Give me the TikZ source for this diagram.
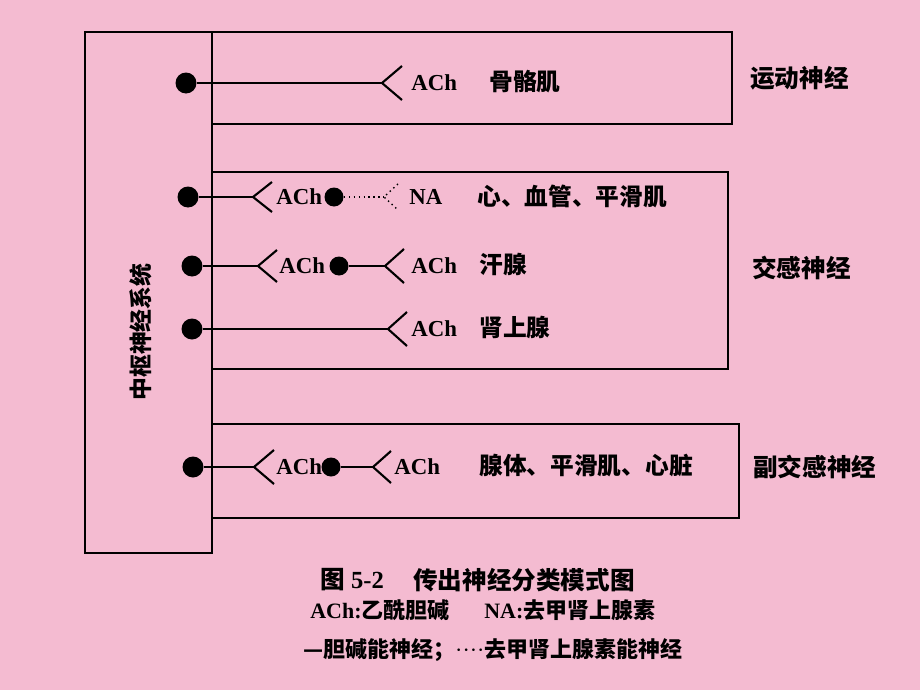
\documentclass[tikz,border=0pt]{standalone}
\usepackage{fontspec}
\setmainfont{Liberation Serif}
\newfontfamily\cjk{Noto Sans CJK SC}
\usetikzlibrary{calc}
\definecolor{bgpink}{RGB}{244,187,209}

\tikzset{
  wire/.style={line width=1.2pt},
  boxline/.style={line width=1.5pt},
  soma/.style={circle, fill=black, inner sep=0pt, minimum size=0.42cm},
  bouton/.style={circle, fill=black, inner sep=0pt, minimum size=0.38cm},
  trans/.style={anchor=west, inner sep=0pt, font=\fontsize{13}{15}\selectfont\bfseries},
  organ/.style={anchor=west, inner sep=0pt, font=\cjk\fontsize{13.5}{16}\selectfont\bfseries},
  caption/.style={anchor=west, inner sep=0pt, font=\fontsize{12.5}{14}\selectfont\bfseries},
}

\begin{document}
\begin{tikzpicture}[x=0.02cm, y=-0.02cm]

    % 0. Background fixes the page size
    \fill[bgpink] (0,0) rectangle (920,690);

    % 1. Central nervous system box and the three nerve boxes
    \draw[boxline] (85,32) rectangle (212,553);
    \draw[boxline] (212,32) -- (732,32) -- (732,124) -- (212,124);
    \draw[boxline] (212,172) -- (728,172) -- (728,369) -- (212,369);
    \draw[boxline] (212,424) -- (739,424) -- (739,518) -- (212,518);
    \node[rotate=90, inner sep=0pt, font=\cjk\fontsize{13}{15}\selectfont\bfseries] (cns) at (141,332) {中枢神经系统};

    % 2. Motor nerve
    \node[soma] (m0) at (186,83) {};
    \coordinate (mf) at (382,83);
    \draw[wire] (m0) -- (mf);
    \draw[wire] (mf) ++(20,-17) -- (mf) -- ++(20,17);
    \node[trans] (mach) at (411,83) {ACh};
    \node[organ] (mtgt) at (489,82) {骨骼肌};

    % 3. Sympathetic nerve, row 1 (noradrenergic ending, dotted)
    \node[soma] (a0) at (188,197) {};
    \coordinate (af1) at (253,197);
    \draw[wire] (a0) -- (af1);
    \draw[wire] (af1) ++(19,-15) -- (af1) -- ++(19,15);
    \node[trans] (aach) at (276,197) {ACh};
    \node[bouton] (a1) at (334,197) {};
    \coordinate (af2) at (384,197);
    \draw[dotted, line width=0.8pt] (a1) -- (af2);
    \draw[dotted, line width=0.8pt] (af2) ++(14,-13) -- (af2) -- ++(14,13);
    \node[trans] (ana) at (409,197) {NA};
    \node[organ] (atgt) at (477,196) {心、血管、平滑肌};

    % 4. Sympathetic nerve, row 2 (sweat gland)
    \node[soma] (b0) at (192,266) {};
    \coordinate (bf1) at (258,266);
    \draw[wire] (b0) -- (bf1);
    \draw[wire] (bf1) ++(19,-16) -- (bf1) -- ++(19,16);
    \node[trans] (bach1) at (279,266) {ACh};
    \node[bouton] (b1) at (339,266) {};
    \coordinate (bf2) at (385,266);
    \draw[wire] (b1) -- (bf2);
    \draw[wire] (bf2) ++(19,-17) -- (bf2) -- ++(19,17);
    \node[trans] (bach2) at (411,266) {ACh};
    \node[organ] (btgt) at (479,265) {汗腺};

    % 5. Sympathetic nerve, row 3 (adrenal medulla)
    \node[soma] (c0) at (192,329) {};
    \coordinate (cf) at (388,329);
    \draw[wire] (c0) -- (cf);
    \draw[wire] (cf) ++(19,-17) -- (cf) -- ++(19,17);
    \node[trans] (cach) at (411,329) {ACh};
    \node[organ] (ctgt) at (479,328) {肾上腺};

    % 6. Parasympathetic nerve
    \node[soma] (p0) at (193,467) {};
    \coordinate (pf1) at (254,467);
    \draw[wire] (p0) -- (pf1);
    \draw[wire] (pf1) ++(20,-17) -- (pf1) -- ++(20,17);
    \node[trans] (pach1) at (276,467) {ACh};
    \node[bouton] (p1) at (331,467) {};
    \coordinate (pf2) at (373,467);
    \draw[wire] (p1) -- (pf2);
    \draw[wire] (pf2) ++(18,-16) -- (pf2) -- ++(18,16);
    \node[trans] (pach2) at (394,467) {ACh};
    \node[organ] (ptgt) at (479,466) {腺体、平滑肌、心脏};

    % 7. Nerve names on the right
    \node[organ, font=\cjk\fontsize{14}{16}\selectfont\bfseries] (motor) at (750,78) {运动神经};
    \node[organ, font=\cjk\fontsize{14}{16}\selectfont\bfseries] (symp) at (752,268) {交感神经};
    \node[organ, font=\cjk\fontsize{14}{16}\selectfont\bfseries] (para) at (753,467) {副交感神经};

    % 8. Caption and legend
    \node[caption, font=\fontsize{14}{16}\selectfont\bfseries] (fig) at (320,580) {{\cjk 图}\ 5-2};
    \node[caption, font=\cjk\fontsize{14}{16}\selectfont\bfseries] (title) at (413,580) {传出神经分类模式图};
    \node[caption] (leg1) at (310,610) {ACh:{\cjk 乙酰胆碱}};
    \node[caption] (leg2) at (484,610) {NA:{\cjk 去甲肾上腺素}};
    \node[caption, font=\cjk\fontsize{12.5}{14}\selectfont\bfseries] (leg3) at (303,650) {—胆碱能神经；{\rmfamily\mdseries ····}去甲肾上腺素能神经};

\end{tikzpicture}
\end{document}
